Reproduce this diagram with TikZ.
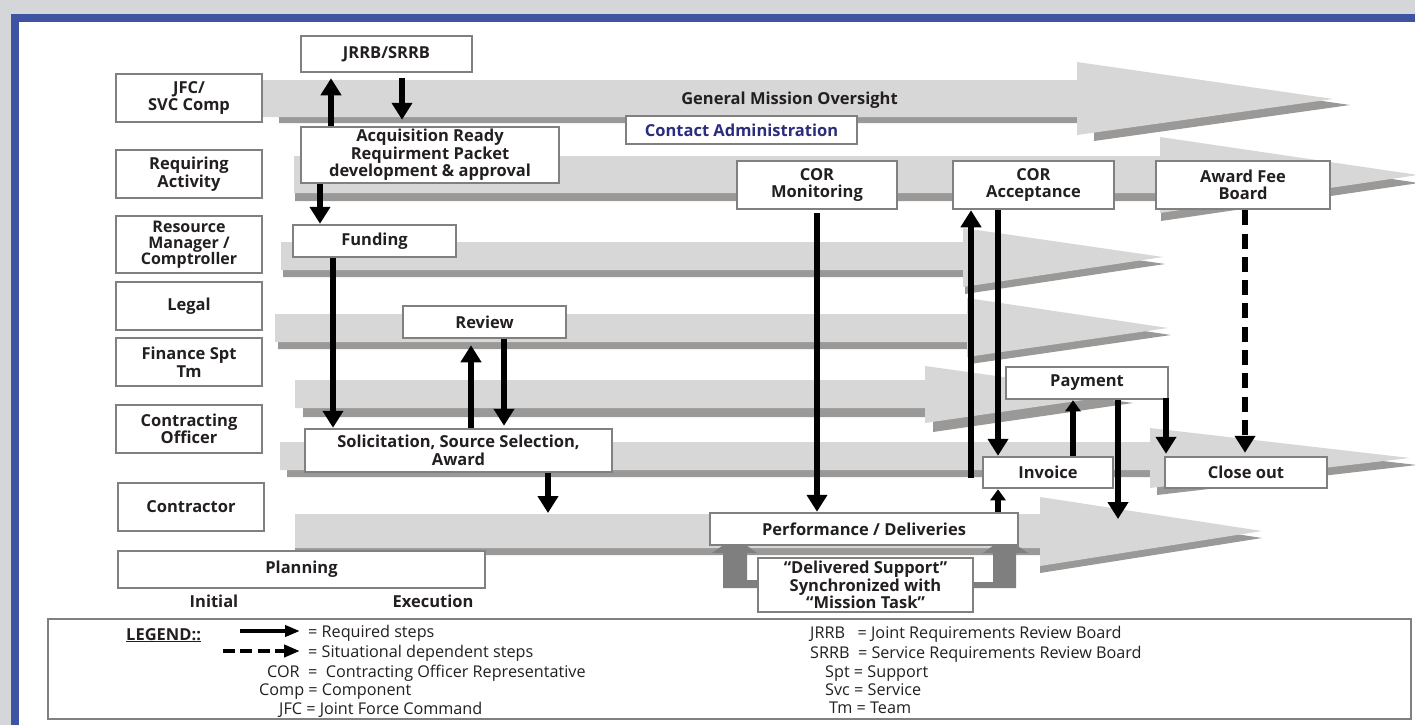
\documentclass[tikz,border=0pt]{standalone}
\usepackage{fontspec}
\setmainfont{Open Sans}
\usetikzlibrary{arrows.meta}
\definecolor{bgray}{HTML}{D5D6DA}
\definecolor{fblue}{HTML}{3F53A3}
\definecolor{lband}{HTML}{D7D7D7}
\definecolor{dband}{HTML}{9A9997}
\definecolor{bxline}{HTML}{808080}
\definecolor{txt}{HTML}{231F20}
\definecolor{navy}{HTML}{2B2C7C}
\definecolor{garrow}{HTML}{7F7F7F}
\begin{document}
\begin{tikzpicture}[x=1pt,y=-1pt,
  box/.style={draw=bxline, line width=2.5pt, fill=white, inner sep=0pt, align=center,
    font=\bfseries\fontsize{16.5}{17.5}\selectfont, text=txt},
  tight/.style={font=\bfseries\fontsize{16.5}{15.3}\selectfont},
  blk/.style={line width=6.5pt, draw=black, -{Triangle[width=20pt,length=17pt]}},
  smallblk/.style={line width=6pt, draw=black, -{Triangle[width=15pt,length=11pt]}},
  dashblk/.style={line width=6pt, draw=black, dash pattern=on 15pt off 8.3pt, -{Triangle[width=20pt,length=17pt]}},
  lt/.style={inner sep=0pt, anchor=base west, text=txt, font=\fontsize{16.2}{17}\selectfont},
  bt/.style={inner sep=0pt, text=txt, font=\bfseries\fontsize{16.5}{17}\selectfont}]
\useasboundingbox (0,0) rectangle (1415,725);
% background and frame
\fill[bgray] (0,0) rectangle (1415,725);
\fill[fblue] (11,14) rectangle (1415,725);
\fill[white] (19,22) rectangle (1415,725);
% lane bands: start x / shaft top / shaft bottom / head back x / head top / head bottom / tip x / tip y / dx / dy
\foreach \sx/\ta/\tb/\hb/\ht/\hm/\tx/\ty/\dx/\dy in {
  262/80/117/1077/62/135/1333/99/17/6,
  294/156/193/1160/137/213/1418/175/1/8,
  281/242/270/963/228/287/1163/257/2/7,
  275/314/342/967/298/357/1168/328/3/7,
  295/380/408/925/366/423/1125/394/8/9,
  280/442/470/1150/428/488/1410/458/7/7,
  295/514/548/1040/497/566/1262/531/0/7}{
  \fill[dband, shift={(\dx,\dy)}] (\sx,\ta) -- (\hb,\ta) -- (\hb,\ht) -- (\tx,\ty) -- (\hb,\hm) -- (\hb,\tb) -- (\sx,\tb) -- cycle;
  \fill[lband] (\sx,\ta) -- (\hb,\ta) -- (\hb,\ht) -- (\tx,\ty) -- (\hb,\hm) -- (\hb,\tb) -- (\sx,\tb) -- cycle;
}
\node[bt, anchor=base] (gmo) at (789.5,104) {General Mission Oversight};
% delivered support gray arrows
\fill[garrow] (723,553) -- (747,553) -- (747,580) -- (758,580) -- (758,588) -- (723,588) -- cycle;
\fill[garrow] (712,553) -- (757,553) -- (735,537) -- cycle;
\fill[garrow] (993,553) -- (1016,553) -- (1016,588) -- (973,588) -- (973,582) -- (993,582) -- cycle;
\fill[garrow] (983,553) -- (1028,553) -- (1005,537) -- cycle;
% lane labels
\node[box, minimum width=146pt, minimum height=48pt] (jfc) at (189,98) {JFC/\\SVC Comp};
\node[box, minimum width=146pt, minimum height=48pt] (req) at (189,174) {Requiring\\Activity};
\node[box, minimum width=146pt, minimum height=57pt, font=\bfseries\fontsize{16}{16}\selectfont] (rm) at (189,244.5) {Resource\\Manager /\\Comptroller};
\node[box, minimum width=146pt, minimum height=48pt] (legal) at (189,306) {Legal};
\node[box, minimum width=146pt, minimum height=48pt] (fin) at (189,362) {Finance Spt\\Tm};
\node[box, minimum width=146pt, minimum height=48pt] (co) at (189,429) {Contracting\\Officer};
\node[box, minimum width=146pt, minimum height=48pt] (ctr) at (191,507) {Contractor};
\node[box, minimum width=367pt, minimum height=37pt] (plan) at (301.5,569.5) {Planning};
\node[bt] (init) at (214,601) {Initial};
\node[bt] (exec) at (433,601) {Execution};
% process boxes
\node[box, minimum width=171pt, minimum height=36pt] (jrrb) at (386.5,54) {JRRB/SRRB};
\node[box, tight, minimum width=258pt, minimum height=56pt] (acq) at (430,155) {Acquisition Ready\\Requirment Packet\\development \& approval};
\node[box, minimum width=163pt, minimum height=32pt] (fund) at (374.5,241) {Funding};
\node[box, minimum width=231pt, minimum height=28pt, text=navy] (cadm) at (741.5,130) {Contact Administration};
\node[box, minimum width=160pt, minimum height=48pt] (corm) at (817,185) {COR\\Monitoring};
\node[box, minimum width=161pt, minimum height=48pt] (cora) at (1033.5,185) {COR\\Acceptance};
\node[box, minimum width=174pt, minimum height=48pt] (afb) at (1243,185) {Award Fee\\Board};
\node[box, minimum width=163pt, minimum height=32pt] (rev) at (484.5,322) {Review};
\node[box, minimum width=307pt, minimum height=43pt] (sol) at (458.5,450.5) {Solicitation, Source Selection,\\Award};
\node[box, minimum width=162pt, minimum height=32pt] (pay) at (1087,383) {Payment};
\node[box, minimum width=130pt, minimum height=31pt] (inv) at (1048,472.5) {Invoice};
\node[box, minimum width=162pt, minimum height=31pt] (close) at (1246,472.5) {Close out};
\node[box, minimum width=308pt, minimum height=32pt] (perf) at (864,529) {Performance / Deliveries};
\node[box, tight, minimum width=215pt, minimum height=54pt] (dsup) at (865.5,585) {“Delivered Support”\\Synchronized with\\“Mission Task”};
% connector x positions and free ends
\coordinate (x1) at (331,0);
\coordinate (x2) at (402,0);
\coordinate (x3) at (320,0);
\coordinate (x4) at (333,0);
\coordinate (x5) at (471,0);
\coordinate (x6) at (504,0);
\coordinate (x7) at (548,0);
\coordinate (x8) at (817,0);
\coordinate (x9) at (971,0);
\coordinate (x10) at (998,0);
\coordinate (x11) at (1073,0);
\coordinate (x12) at (1118,0);
\coordinate (x13) at (1166,0);
\coordinate (x15) at (1245,0);
\coordinate (a7e) at (548,513);
\coordinate (a9s) at (971,478);
\coordinate (a12e) at (1118,519);
% connectors
\draw[blk, shorten >=5pt] (acq.north -| x1) -- (jrrb.south -| x1);
\draw[blk, shorten <=5pt, shorten >=6pt] (jrrb.south -| x2) -- (acq.north -| x2);
\draw[blk] (acq.south -| x3) -- (fund.north -| x3);
\draw[blk] (fund.south -| x4) -- (sol.north -| x4);
\draw[blk, shorten >=6pt] (sol.north -| x5) -- (rev.south -| x5);
\draw[blk, shorten >=2pt] (rev.south -| x6) -- (sol.north -| x6);
\draw[blk] (sol.south -| x7) -- (a7e);
\draw[blk, shorten <=3pt] (corm.south -| x8) -- (perf.north -| x8);
\draw[blk] (a9s) -- (cora.south -| x9);
\draw[blk] (cora.south -| x10) -- (inv.north -| x10);
\draw[smallblk] (inv.north -| x11) -- (pay.south -| x11);
\draw[blk] (pay.south -| x12) -- (a12e);
\draw[blk, shorten <=-2pt, shorten >=2pt] (pay.south -| x13) -- (close.north -| x13);
\draw[smallblk] (perf.north -| x10) -- (inv.south -| x10);
\draw[dashblk, shorten >=3pt] (afb.south -| x15) -- (close.north -| x15);
% legend
\node[draw=bxline, line width=2.5pt, fill=white, minimum width=1363pt, minimum height=100pt, inner sep=0pt] (leg) at (729.5,669) {};
\node[lt, font=\bfseries\fontsize{16.5}{17}\selectfont] (lgt) at (126,640) {\underline{LEGEND::}};
\coordinate (l1s) at (240,631);
\coordinate (l1e) at (300,631);
\coordinate (l2s) at (223,651);
\coordinate (l2e) at (300,651);
\draw[line width=4pt, -{Triangle[width=11pt,length=15pt]}] (l1s) -- (l1e);
\draw[line width=4pt, dash pattern=on 11.7pt off 5.7pt, -{Triangle[width=12pt,length=16pt]}] (l2s) -- (l2e);
\node[lt] (lg1) at (308,637) {= Required steps};
\node[lt] (lg2) at (308,657) {= Situational dependent steps};
\node[lt] (lg3) at (267,677) {COR\ \ =\ \ Contracting Officer Representative};
\node[lt] (lg4) at (259,695) {Comp = Component};
\node[lt] (lg5) at (279,714) {JFC = Joint Force Command};
\node[lt] (lg6) at (810,638) {JRRB\ \ \ = Joint Requirements Review Board};
\node[lt] (lg7) at (810,658) {SRRB\ \ = Service Requirements Review Board};
\node[lt] (lg8) at (825,677) {Spt = Support};
\node[lt] (lg9) at (825,695) {Svc = Service};
\node[lt] (lg10) at (829,713) {Tm = Team};
\end{tikzpicture}
\end{document}
